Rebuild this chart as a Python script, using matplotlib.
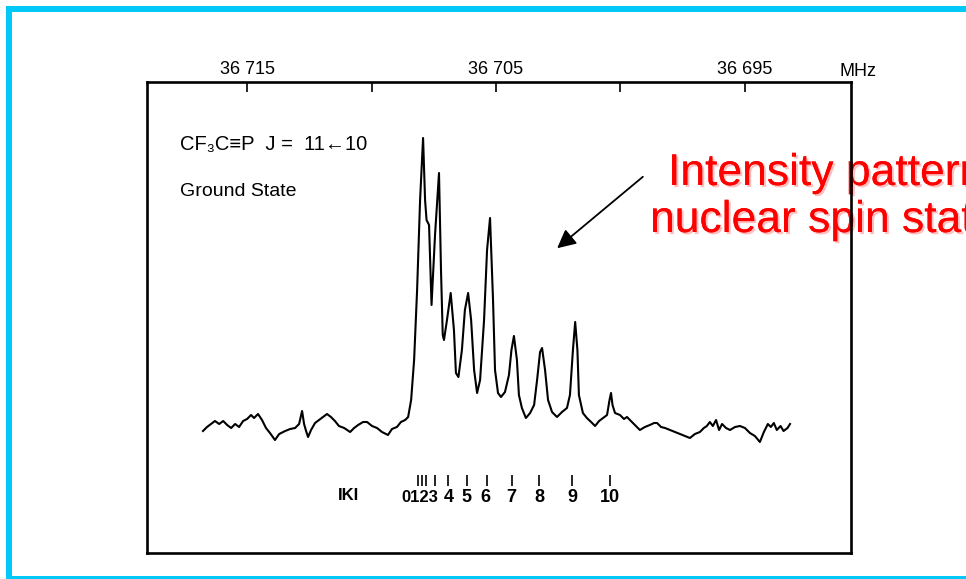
import matplotlib
matplotlib.use("Agg")
import matplotlib.pyplot as plt
import matplotlib.patches as mpatches
import matplotlib.patheffects as pe

# spectrum (MHz, arbitrary intensity)
freq = [36716.77, 36716.61, 36716.45, 36716.29, 36716.12, 36715.96, 36715.80, 36715.64,
        36715.48, 36715.32, 36715.16, 36715.00, 36714.84, 36714.72, 36714.56, 36714.40,
        36714.24, 36714.08, 36713.88, 36713.71, 36713.47, 36713.27, 36713.07, 36712.91,
        36712.79, 36712.71, 36712.63, 36712.55, 36712.43, 36712.27, 36712.11, 36711.95,
        36711.79, 36711.63, 36711.47, 36711.31, 36711.10, 36710.86, 36710.70, 36710.54,
        36710.34, 36710.18, 36709.98, 36709.78, 36709.58, 36709.34, 36709.18, 36708.98,
        36708.82, 36708.65, 36708.53, 36708.41, 36708.29, 36708.17, 36708.05, 36707.93,
        36707.85, 36707.79, 36707.69, 36707.59, 36707.45, 36707.29, 36707.21, 36707.14,
        36707.09, 36706.97, 36706.82, 36706.69, 36706.61, 36706.51, 36706.37, 36706.25,
        36706.12, 36706.00, 36705.88, 36705.76, 36705.64, 36705.48, 36705.36, 36705.24,
        36705.12, 36705.04, 36704.92, 36704.80, 36704.64, 36704.48, 36704.38, 36704.28,
        36704.16, 36704.08, 36703.96, 36703.80, 36703.63, 36703.47, 36703.35, 36703.23,
        36703.15, 36703.03, 36702.91, 36702.75, 36702.55, 36702.35, 36702.15, 36702.03,
        36701.91, 36701.82, 36701.73, 36701.67, 36701.51, 36701.35, 36701.18, 36701.02,
        36700.86, 36700.70, 36700.54, 36700.44, 36700.38, 36700.32, 36700.22, 36700.02,
        36699.86, 36699.74, 36699.58, 36699.42, 36699.22, 36699.02, 36698.82, 36698.65,
        36698.53, 36698.37, 36698.21, 36698.01, 36697.81, 36697.61, 36697.41, 36697.21,
        36697.01, 36696.81, 36696.65, 36696.53, 36696.41, 36696.29, 36696.16, 36696.04,
        36695.92, 36695.76, 36695.60, 36695.40, 36695.20, 36695.00, 36694.80, 36694.60,
        36694.40, 36694.24, 36694.08, 36693.96, 36693.84, 36693.72, 36693.57, 36693.45,
        36693.29, 36693.19]
inten = [122, 126, 129, 132, 129, 132, 128, 125,
         129, 126, 132, 134, 138, 135, 139, 133,
         125, 120, 113, 119, 122, 124, 125, 129,
         142, 129, 122, 116, 123, 130, 133, 136,
         139, 136, 132, 127, 125, 121, 125, 128,
         131, 131, 127, 125, 121, 118, 124, 126,
         131, 133, 136, 153, 193, 263, 353, 415,
         353, 333, 328, 248, 318, 380, 283, 218,
         213, 233, 260, 223, 180, 176, 203, 243,
         260, 233, 183, 160, 173, 233, 303, 335,
         253, 183, 160, 156, 161, 178, 203, 217,
         193, 158, 145, 135, 140, 148, 173, 201,
         205, 183, 153, 141, 136, 141, 145, 158,
         203, 231, 203, 158, 140, 135, 131, 127,
         132, 135, 138, 153, 160, 148, 140, 138,
         134, 136, 132, 128, 123, 126, 128, 130,
         130, 126, 125, 123, 121, 119, 117, 115,
         119, 121, 125, 127, 131, 127, 133, 123,
         129, 125, 123, 126, 127, 125, 120, 117,
         111, 121, 129, 126, 130, 123, 127, 122,
         125, 129]

# |K| component markers
k_tick_mhz = [36708.13, 36707.97, 36707.81, 36707.45, 36706.93, 36706.16,
              36705.36, 36704.36, 36703.27, 36701.95, 36700.42]
k_labels = ["0", "1", "2", "3", "4", "5", "6", "7", "8", "9", "10"]
# label centres: the first four are printed as one packed group
k_label_mhz = [36708.07, 36706.90, 36706.20, 36705.44, 36704.40,
               36703.27, 36701.95, 36700.42]

top_ticks = [36715, 36710, 36705, 36700, 36695]
top_labels = ["36 715", "", "36 705", "", "36 695"]

narrow = ["Liberation Sans Narrow", "Liberation Sans", "DejaVu Sans"]
sans = ["Liberation Sans", "DejaVu Sans"]

fig = plt.figure(figsize=(9.66, 5.79), dpi=100)

# cyan slide frame (right side runs off the picture)
frame = mpatches.Rectangle((9 / 966, 0.5 / 579), 1.2, 1 - 9.5 / 579,
                           transform=fig.transFigure, fill=False,
                           edgecolor="#00c8f8", linewidth=4.3, clip_on=False)
fig.patches.append(frame)

ax = fig.add_axes([147 / 966, 26 / 579, 704 / 966, 471 / 579])
ax.set_zorder(2)
ax.patch.set_visible(False)
ax.plot(freq, inten, color="black", linewidth=1.5)
ax.set_xlim(36719.02, 36690.74)
ax.set_ylim(0, 471)

for s in ax.spines.values():
    s.set_linewidth(1.9)

ax.xaxis.tick_top()
ax.set_xticks(top_ticks)
ax.set_xticklabels(top_labels, family=narrow, fontsize=13)
ax.tick_params(axis="x", direction="in", length=7, width=1.2, pad=3)
ax.set_yticks([])

ax.text(0.983, 1.004, "MHz", transform=ax.transAxes, family=narrow,
        fontsize=13, ha="left", va="bottom")

ax.text(36717.69, 409, "CF₃C≡P  J =  11←10", family=sans, fontsize=14.5,
        ha="left", va="center")
ax.text(36717.69, 361, "Ground State", family=sans, fontsize=14,
        ha="left", va="center")

# K ticks and labels
ax.vlines(k_tick_mhz, 67, 78, color="black", linewidth=1.2)
group = ["".join(k_labels[:4])] + k_labels[4:]
for i, (xm, lab) in enumerate(zip(k_label_mhz, group)):
    ax.text(xm, 55, lab, family=sans, fontsize=12 if i == 0 else 13,
            fontweight="bold", ha="center", va="center")
ax.text(36710.94, 57, "IKI", family=sans, fontsize=12, fontweight="bold",
        ha="center", va="center")

# red annotation
shadow = [pe.withSimplePatchShadow(offset=(1.5, -1.5), shadow_rgbFace="#ffb0b0", alpha=0.8),
          pe.Normal()]
fig.text(668 / 966, 1 - 185 / 579, "Intensity pattern", color="#ff0000",
         family=sans, fontsize=32, ha="left", va="baseline",
         path_effects=shadow, zorder=1)
fig.text(650 / 966, 1 - 232 / 579, "nuclear spin stat", color="#ff0000",
         family=sans, fontsize=32, ha="left", va="baseline",
         path_effects=shadow, zorder=1)

ax.annotate("", xy=(555 / 966, 1 - 250 / 579), xytext=(645 / 966, 1 - 175 / 579),
            xycoords="figure fraction", textcoords="figure fraction",
            arrowprops=dict(arrowstyle="-|>", color="black", lw=1.3,
                            mutation_scale=28))

fig.savefig("out.png", dpi=100)
